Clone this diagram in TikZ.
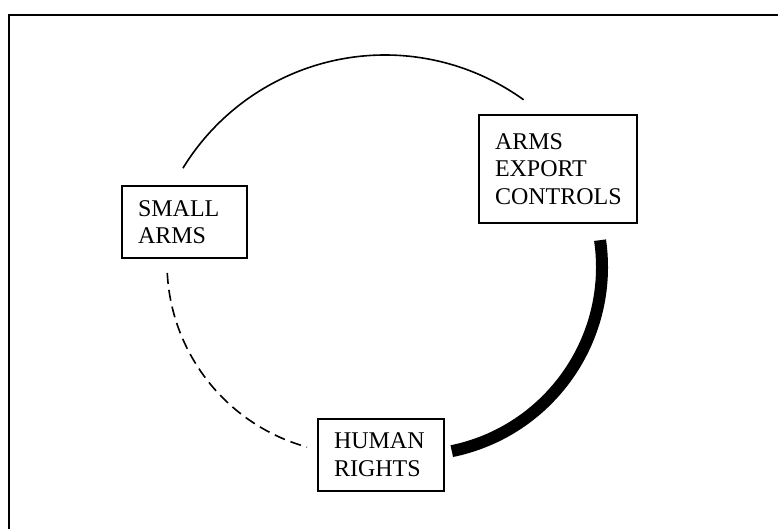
\documentclass[tikz,border=0pt]{standalone}
\usepackage{fontspec}
\setmainfont{Liberation Serif}
\usetikzlibrary{calc}
\begin{document}
\begin{tikzpicture}[x=0.5pt,y=0.5pt,
  box/.style={draw, line width=0.75pt, rectangle, align=left,
    inner xsep=8pt, inner ysep=0pt,
    font=\fontsize{12pt}{13.8pt}\selectfont},
  thinlink/.style={line width=0.8pt},
  boldlink/.style={line width=6pt, line cap=butt},
  dashlink/.style={line width=0.8pt, dash pattern=on 5.5pt off 3pt}]
\useasboundingbox (0,0) rectangle (778,529);
% page frame
\draw[line width=1pt] (9,0) -- (9,514) -- (778,514);

% topics
\node[box, text width=46.5pt, minimum height=36pt] (small) at (184.5,307) {SMALL\\ARMS};
\node[box, text width=63pt, minimum height=54pt] (export) at (558,360) {ARMS\\EXPORT\\CONTROLS};
\node[box, text width=47pt, minimum height=36pt] (rights) at (381,74) {HUMAN\\RIGHTS};

% centres of the linking arcs
\coordinate (o1) at (385,237);
\coordinate (o2) at (414,262);
\coordinate (o3) at (358,266);

% links between the topics
\draw[thinlink] ($(o1)+(148.5:237)$) arc[start angle=148.5, end angle=54.2, radius=237];
\draw[boldlink] ($(o2)+(8.2:188)$) arc[start angle=8.2, end angle=-78.4, radius=188];
\draw[dashlink] ($(o3)+(183:191)$) arc[start angle=183, end angle=254.5, radius=191];
\end{tikzpicture}
\end{document}
